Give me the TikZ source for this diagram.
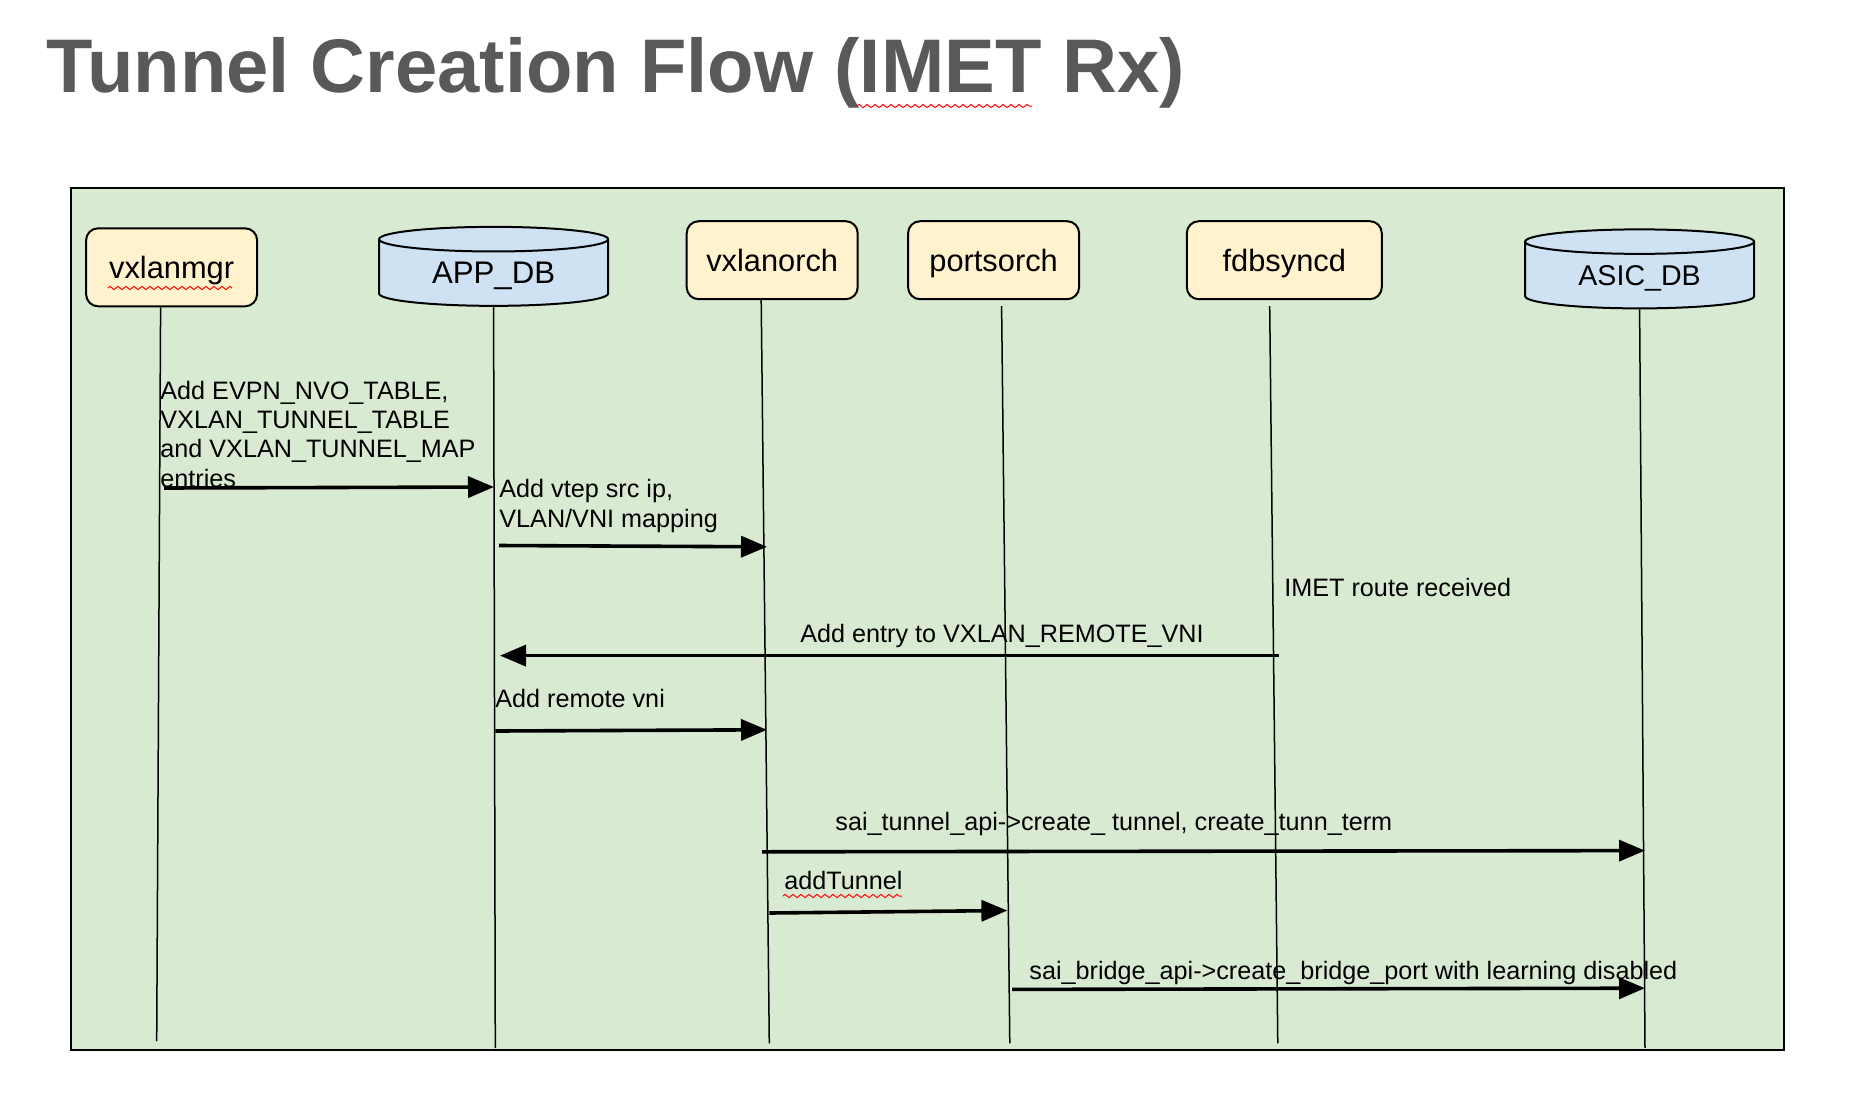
\documentclass[tikz,border=0pt]{standalone}
\usepackage{fontspec}
\setmainfont{Liberation Sans}
\usetikzlibrary{shapes.geometric,arrows.meta,decorations.pathmorphing}

\definecolor{flowgreen}{HTML}{D9EAD3}
\definecolor{procyellow}{HTML}{FFF2CC}
\definecolor{dbblue}{HTML}{CFE2F3}
\definecolor{titlegray}{HTML}{595959}

\begin{document}
\begin{tikzpicture}[x=0.5pt, y=-0.5pt,
    proc/.style={draw, line width=1pt, rounded corners=6pt, fill=procyellow,
        minimum width=85.5pt, minimum height=39pt, inner sep=0pt,
        text height=12pt, text depth=0.5pt, font=\fontsize{15.4}{18}\selectfont},
    db/.style={draw, line width=1pt, cylinder, shape border rotate=90, aspect=0.2,
        fill=dbblue, minimum width=114.5pt, minimum height=39.5pt, inner sep=0pt,
        text height=11pt, text depth=0.6pt, font=\fontsize{15.6}{18}\selectfont},
    life/.style={line width=0.75pt},
    msg/.style={line width=1.8pt, -{Triangle[length=13pt,width=10.5pt]}},
    txt/.style={inner sep=0pt, font=\fontsize{12.6}{14.65}\selectfont},
    spell/.style={red, line width=0.5pt, decorate,
        decoration={zigzag, segment length=4pt, amplitude=0.8pt}}]

    \useasboundingbox (0,0) rectangle (1876,1099);

    % title
    \node[anchor=base west, inner sep=0pt, text=titlegray,
        font=\fontsize{38}{44}\selectfont\bfseries] (title) at (46,92)
        {Tunnel Creation Flow (IMET Rx)};
    \draw[spell] (857,106) -- (1032,106);

    % background frame
    \draw[line width=1pt, fill=flowgreen] (70.6,187.8) rectangle (1783.9,1050.4);

    % participants
    \node[proc] (vxlanmgr) at (171.6,267.3) {vxlanmgr};
    \node[db] (appdb) at (493.6,273) {APP\_DB};
    \node[proc] (vxlanorch) at (772.2,260.2) {vxlanorch};
    \node[proc] (portsorch) at (993.6,260.2) {portsorch};
    \node[proc, minimum width=97.5pt] (fdbsyncd) at (1284.3,260.2) {fdbsyncd};
    \node[db, font=\fontsize{14.3}{17}\selectfont] (asicdb) at (1639.6,275.5) {ASIC\_DB};
    \draw[spell] (108,288) -- (232,288);

    % lifelines
    \coordinate (mgr-end) at (156.7,1041);
    \coordinate (app-end) at (495.3,1048);
    \coordinate (orch-end) at (769.3,1043.3);
    \coordinate (ports-end) at (1009.8,1043.3);
    \coordinate (fdb-end) at (1277.8,1043.3);
    \coordinate (asic-end) at (1645,1048);
    \draw[life] ([xshift=-5.5pt]vxlanmgr.south) -- (mgr-end);
    \draw[life] (appdb.south) -- (app-end);
    \draw[life] ([xshift=-5.5pt]vxlanorch.south) -- (orch-end);
    \draw[life] ([xshift=4pt, yshift=-3pt]portsorch.south) -- (ports-end);
    \draw[life] ([xshift=-7.3pt, yshift=-3pt]fdbsyncd.south) -- (fdb-end);
    \draw[life] (asicdb.south) -- (asic-end);

    % vxlanmgr -> APP_DB
    \node[txt, anchor=base west, align=left] (nvo) at (160,487)
        {Add EVPN\_NVO\_TABLE,\\VXLAN\_TUNNEL\_TABLE\\and VXLAN\_TUNNEL\_MAP\\entries};
    \coordinate (m1s) at (164,488);
    \coordinate (m1e) at (494,487);
    \draw[msg] (m1s) -- (m1e);

    % APP_DB -> vxlanorch
    \node[txt, anchor=base west, align=left] (vtep) at (499,527)
        {Add vtep src ip,\\VLAN/VNI mapping};
    \coordinate (m2s) at (499,545.5);
    \coordinate (m2e) at (767,546.8);
    \draw[msg] (m2s) -- (m2e);

    % fdbsyncd -> APP_DB
    \node[txt, anchor=base west] (imet) at (1284,596) {IMET route received};
    \node[txt, anchor=base] (remote) at (1002,642) {Add entry to VXLAN\_REMOTE\_VNI};
    \coordinate (m3s) at (1279,655.6);
    \coordinate (m3e) at (500,655.6);
    \draw[msg] (m3s) -- (m3e);

    % APP_DB -> vxlanorch
    \node[txt, anchor=base west] (rvni) at (495,707) {Add remote vni};
    \coordinate (m4s) at (495.3,731);
    \coordinate (m4e) at (767,729.8);
    \draw[msg] (m4s) -- (m4e);

    % vxlanorch -> ASIC_DB
    \node[txt, anchor=base west] (saitun) at (835,830)
        {sai\_tunnel\_api->create\_ tunnel, create\_tunn\_term};
    \coordinate (m5s) at (762,851.8);
    \coordinate (m5e) at (1645,850.6);
    \draw[msg] (m5s) -- (m5e);

    % vxlanorch -> portsorch
    \node[txt, anchor=base west] (addtun) at (784,889) {addTunnel};
    \draw[spell] (783,896) -- (902,896);
    \coordinate (m6s) at (769.3,913);
    \coordinate (m6e) at (1007.4,910.5);
    \draw[msg] (m6s) -- (m6e);

    % portsorch -> ASIC_DB
    \node[txt, anchor=base west] (saibr) at (1029,979)
        {sai\_bridge\_api->create\_bridge\_port with learning disabled};
    \coordinate (m7s) at (1012,989.4);
    \coordinate (m7e) at (1645,988.2);
    \draw[msg] (m7s) -- (m7e);

\end{tikzpicture}
\end{document}
